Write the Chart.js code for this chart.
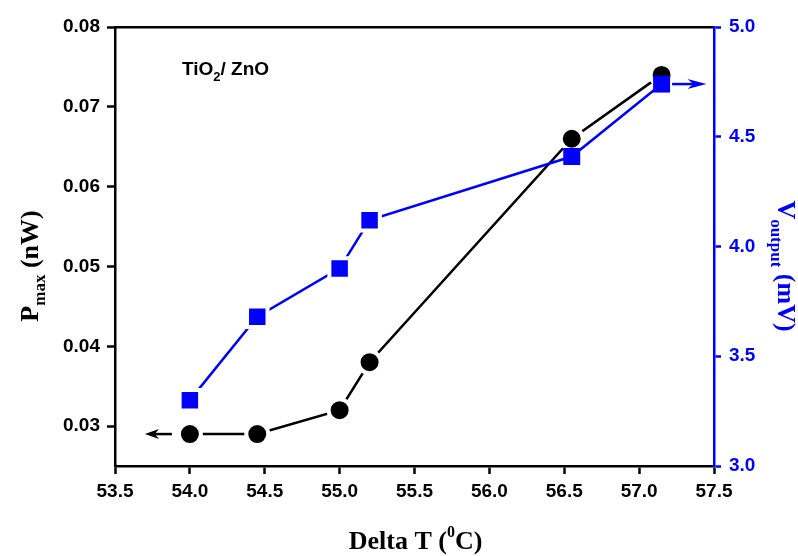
<!DOCTYPE html>
<html>
<head>
<meta charset="utf-8">
<script src="https://cdn.jsdelivr.net/npm/chart.js@4.4.1/dist/chart.umd.min.js"></script>
<style>
  html, body { margin: 0; padding: 0; background: #fff; }
  #wrap { width: 798px; height: 556px; }
</style>
</head>
<body>
<div id="wrap"><canvas id="chart" width="798" height="556"></canvas></div>
<script>
// values
const deltaT = [54.0, 54.45, 55.0, 55.2, 56.55, 57.15];
const pmax = [0.029, 0.029, 0.032, 0.038, 0.066, 0.074];
const voutput = [3.30, 3.68, 3.90, 4.12, 4.41, 4.74];

// arrows telling which axis a series belongs to (x from, x to)
const pmaxArrowX = [53.88, 53.70];
const voutArrowX = [57.22, 57.45];

const BLUE = '#0000ff';
const tickFont = { family: 'Liberation Sans, Arial', size: 19, weight: 'bold' };

// squares that sit against a circle get no white halo
const touching = i => i >= 4;

// axis titles with sub/superscripts, drawn as text on the canvas
const titles = {
  id: 'titles',
  afterDraw(chart) {
    const ctx = chart.ctx;
    const x = chart.scales.x, y = chart.scales.y, y1 = chart.scales.y1;
    ctx.save();

    // bottom: Delta T (0C)
    ctx.fillStyle = '#000';
    ctx.textBaseline = 'alphabetic';
    let big = 'bold 26px "Liberation Serif", "Times New Roman"';
    let small = 'bold 16px "Liberation Serif", "Times New Roman"';
    let sub = 'bold 17px "Liberation Serif", "Times New Roman"';
    ctx.font = big;
    let a = 'Delta T (', c = 'C)';
    let wa = ctx.measureText(a).width, wc = ctx.measureText(c).width;
    ctx.font = small;
    let wb = ctx.measureText('0').width;
    let sx = (x.left + x.right) / 2 - (wa + wb + wc) / 2 + 1;
    let by = 549;
    ctx.font = big; ctx.fillText(a, sx, by);
    ctx.font = small; ctx.fillText('0', sx + wa, by - 12);
    ctx.font = big; ctx.fillText(c, sx + wa + wb, by);

    // left: Pmax (nW)
    ctx.save();
    ctx.translate(38, 0);
    ctx.rotate(-Math.PI / 2);
    ctx.font = big; let wP = ctx.measureText('P').width;
    let wR = ctx.measureText(' (nW)').width;
    ctx.font = sub;
    let wS = ctx.measureText('max').width;
    let start = -266 - (wP + wS + wR) / 2;
    ctx.font = big; ctx.fillText('P', start, 0);
    ctx.font = sub; ctx.fillText('max', start + wP, 7);
    ctx.font = big; ctx.fillText(' (nW)', start + wP + wS, 0);
    ctx.restore();

    // right: Voutput (mV)
    ctx.save();
    ctx.fillStyle = BLUE;
    ctx.translate(778, 0);
    ctx.rotate(Math.PI / 2);
    ctx.font = big; let wV = ctx.measureText('V').width;
    let wM = ctx.measureText(' (mV)').width;
    ctx.font = sub;
    let wO = ctx.measureText('output').width;
    start = 266 - (wV + wO + wM) / 2;
    ctx.font = big; ctx.fillText('V', start, 0);
    ctx.font = sub; ctx.fillText('output', start + wV, 7);
    ctx.font = big; ctx.fillText(' (mV)', start + wV + wO, 0);
    ctx.restore();

    // label inside the plot
    ctx.fillStyle = '#000';
    ctx.font = 'bold 19px "Liberation Sans", Arial';
    let tx = 182, ty = 75;
    ctx.fillText('TiO', tx, ty);
    tx += ctx.measureText('TiO').width;
    ctx.font = 'bold 13px "Liberation Sans", Arial';
    ctx.fillText('2', tx, ty + 6);
    tx += ctx.measureText('2').width;
    ctx.font = 'bold 19px "Liberation Sans", Arial';
    ctx.fillText('/ ZnO', tx, ty);

    // arrows
    function arrow(x0, x1, yy, color, head, half) {
      const px0 = x.getPixelForValue(x0), px1 = x.getPixelForValue(x1);
      const dir = px1 > px0 ? 1 : -1;
      ctx.strokeStyle = color; ctx.fillStyle = color; ctx.lineWidth = 2.5;
      ctx.beginPath();
      ctx.moveTo(px0, yy); ctx.lineTo(px1 - dir * head * 0.6, yy);
      ctx.stroke();
      ctx.beginPath();
      ctx.moveTo(px1, yy);
      ctx.lineTo(px1 - dir * head, yy - half);
      ctx.lineTo(px1 - dir * head * 0.7, yy);
      ctx.lineTo(px1 - dir * head, yy + half);
      ctx.closePath();
      ctx.fill();
    }
    arrow(pmaxArrowX[0], pmaxArrowX[1], y.getPixelForValue(pmax[0]), '#000', 14, 5);
    arrow(voutArrowX[0], voutArrowX[1], y1.getPixelForValue(voutput[voutput.length - 1]), BLUE, 19, 5);

    ctx.restore();
  }
};

new Chart(document.getElementById('chart'), {
  type: 'line',
  data: {
    datasets: [
      {
        label: 'Pmax',
        data: deltaT.map((t, i) => ({ x: t, y: pmax[i] })),
        yAxisID: 'y',
        order: 1,
        borderColor: '#000',
        borderWidth: 2.5,
        pointStyle: 'circle',
        pointRadius: 11,
        pointBackgroundColor: '#000',
        pointBorderColor: '#fff',
        pointBorderWidth: 4,
        tension: 0
      },
      {
        label: 'Voutput',
        data: deltaT.map((t, i) => ({ x: t, y: voutput[i] })),
        yAxisID: 'y1',
        order: 0,
        borderColor: BLUE,
        borderWidth: 2.5,
        pointStyle: 'rect',
        pointRadius: c => touching(c.dataIndex) ? 12 : 14.5,
        pointBackgroundColor: BLUE,
        pointBorderColor: '#fff',
        pointBorderWidth: c => touching(c.dataIndex) ? 0 : 4,
        tension: 0
      }
    ]
  },
  options: {
    responsive: false,
    animation: false,
    events: [],
    layout: { padding: 0 },
    plugins: { legend: { display: false }, tooltip: { enabled: false } },
    scales: {
      x: {
        type: 'linear',
        position: 'bottom',
        min: 53.5, max: 57.5,
        ticks: { stepSize: 0.5, color: '#000', font: tickFont, padding: 6,
                 callback: v => v.toFixed(1), maxRotation: 0 },
        grid: { drawOnChartArea: false, tickLength: 8, tickColor: '#000', tickWidth: 2.5 },
        border: { color: '#000', width: 2.5 },
        afterFit: s => { s.height = 90; }
      },
      x2: {
        type: 'linear',
        position: 'top',
        min: 53.5, max: 57.5,
        ticks: { display: false },
        grid: { display: false },
        border: { color: '#000', width: 2.5 },
        afterFit: s => { s.height = 27; }
      },
      y: {
        type: 'linear',
        position: 'left',
        min: 0.025, max: 0.08,
        ticks: { stepSize: 0.01, includeBounds: false, color: '#000', font: tickFont, padding: 7,
                 callback: v => v.toFixed(2) },
        grid: { drawOnChartArea: false, tickLength: 8, tickColor: '#000', tickWidth: 2.5 },
        border: { color: '#000', width: 2.5 },
        afterFit: s => { s.width = 115; }
      },
      y1: {
        type: 'linear',
        position: 'right',
        min: 3.0, max: 5.0,
        ticks: { stepSize: 0.5, color: BLUE, font: tickFont, padding: 8,
                 callback: v => v.toFixed(1) },
        grid: { drawOnChartArea: false, tickLength: 7, tickColor: BLUE, tickWidth: 2.5 },
        border: { color: BLUE, width: 2.5 },
        afterFit: s => { s.width = 84; }
      }
    }
  },
  plugins: [titles]
});
</script>
</body>
</html>
